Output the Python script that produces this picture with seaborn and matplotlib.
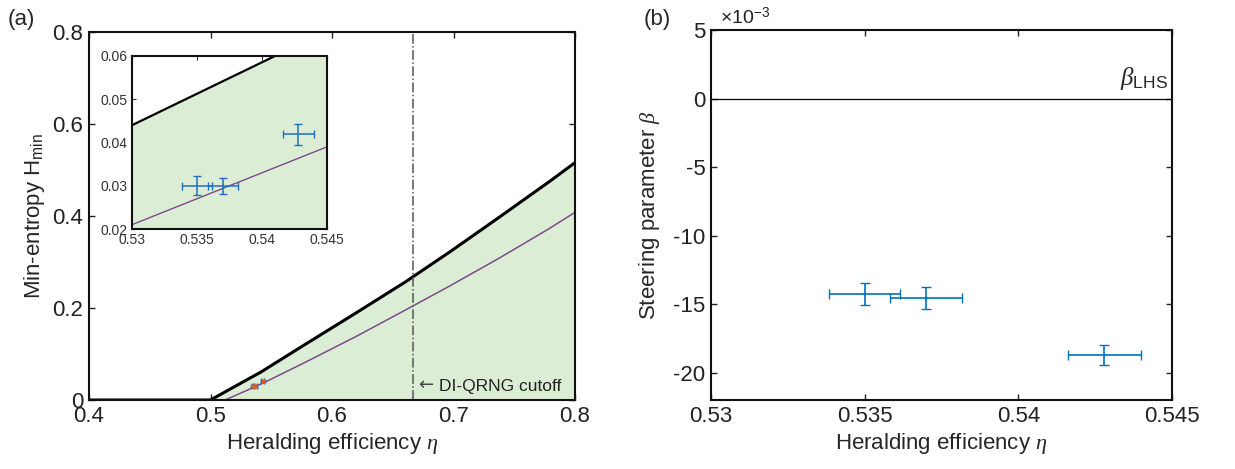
import numpy as np
import pandas as pd
import matplotlib.pyplot as plt
import seaborn as sns

# curves
eta_bound = [0.4, 0.5, 0.53, 0.541, 0.578, 0.619, 0.66, 0.697, 0.738, 0.779, 0.8]
h_bound = [0.0, 0.0, 0.044, 0.060, 0.121, 0.188, 0.256, 0.322, 0.398, 0.475, 0.516]
eta_theory = [0.512, 0.53, 0.545, 0.578, 0.619, 0.66, 0.697, 0.738, 0.779, 0.8]
h_theory = [0.0, 0.021, 0.039, 0.082, 0.137, 0.195, 0.248, 0.309, 0.373, 0.408]

# measured points
eta_meas = [0.535, 0.537, 0.5428]
eta_err = [0.00115, 0.00118, 0.0012]
h_meas = [0.0300, 0.0300, 0.0419]
h_err = [0.0022, 0.0018, 0.0024]
beta_meas = [-14.26, -14.59, -18.72]   # x 1e-3
beta_err = [0.8, 0.8, 0.7]

cutoff = 2 / 3

sns.set_style("ticks")
plt.rcParams['font.family'] = ['Liberation Sans', 'DejaVu Sans']
plt.rcParams['mathtext.fontset'] = 'custom'
plt.rcParams['mathtext.rm'] = 'Liberation Sans'
plt.rcParams['mathtext.it'] = 'Liberation Serif:italic'
plt.rcParams['xtick.direction'] = 'in'
plt.rcParams['ytick.direction'] = 'in'

blue = '#1f6fc0'
purple = '#7d4a8c'
green = '#dcedd5'

fig = plt.figure(figsize=(12.35, 4.69), dpi=100)
W, H = 1235, 469
ax = fig.add_axes([89 / W, 1 - 400 / H, (575 - 89) / W, (400 - 32) / H])
axb = fig.add_axes([711 / W, 1 - 400 / H, (1172 - 711) / W, (400 - 30) / H])
axin = fig.add_axes([132 / W, 1 - 229 / H, (327 - 132) / W, (229 - 56) / H])

bound = pd.DataFrame({'eta': eta_bound, 'h': h_bound})
theory = pd.DataFrame({'eta': eta_theory, 'h': h_theory})


def draw_a(a, lw_b, lw_t):
    a.fill_between(eta_bound, 0, h_bound, color=green, lw=0)
    sns.lineplot(data=bound, x='eta', y='h', color='black', lw=lw_b, ax=a)
    sns.lineplot(data=theory, x='eta', y='h', color=purple, lw=lw_t, ax=a)


# panel a
draw_a(ax, 2.2, 1.1)
ax.plot([cutoff, cutoff], [0, 0.8], color='#555555', lw=1.1, ls='-.')
ax.errorbar(eta_meas, h_meas, xerr=eta_err, yerr=h_err, fmt='none',
            ecolor=blue, elinewidth=1.2, capsize=2)
ax.plot(eta_meas, h_meas, 's', color='#e05a1a', ms=3, mec='none')
ax.text(cutoff + 0.004, 0.014, '\u2190', fontsize=13, family='DejaVu Sans',
        color='#444444', va='bottom')
ax.text(cutoff + 0.021, 0.014, 'DI-QRNG cutoff', fontsize=12.5,
        color='#222222', va='bottom')
ax.set_xlim(0.4, 0.8)
ax.set_ylim(0, 0.8)
ax.set_xticks([0.4, 0.5, 0.6, 0.7, 0.8])
ax.set_yticks([0, 0.2, 0.4, 0.6, 0.8])
ax.set_xticklabels(['0.4', '0.5', '0.6', '0.7', '0.8'])
ax.set_yticklabels(['0', '0.2', '0.4', '0.6', '0.8'])
ax.set_xlabel(r'Heralding efficiency $\eta$', fontsize=16, labelpad=3)
ax.set_ylabel(r'Min-entropy H$_{\mathrm{min}}$', fontsize=16, labelpad=4)

# inset
draw_a(axin, 1.6, 1.0)
axin.errorbar(eta_meas, h_meas, xerr=eta_err, yerr=h_err, fmt='none',
              ecolor=blue, elinewidth=1.1, capsize=3)
axin.set_xlim(0.53, 0.545)
axin.set_ylim(0.02, 0.06)
axin.set_xticks([0.53, 0.535, 0.54, 0.545])
axin.set_xticklabels(['0.53', '0.535', '0.54', '0.545'])
axin.set_yticks([0.02, 0.03, 0.04, 0.05, 0.06])
axin.set_yticklabels(['0.02', '0.03', '0.04', '0.05', '0.06'])
axin.set_xlabel('')
axin.set_ylabel('')
axin.tick_params(labelsize=10, length=3, colors='#333333', labelcolor='#333333',
                 top=True, right=True, pad=3)

# panel b
axb.axhline(0, color='black', lw=0.9)
axb.errorbar(eta_meas, beta_meas, xerr=eta_err, yerr=beta_err, fmt='none',
             ecolor='#0072BD', elinewidth=1.2, capsize=3.5)
sns.scatterplot(x=eta_meas, y=beta_meas, color='#0072BD', s=4, ax=axb,
                edgecolor='none')
axb.text(0.54488, 0.45, r'$\beta_{\mathrm{LHS}}$', fontsize=18, ha='right',
         va='bottom')
axb.set_xlim(0.53, 0.545)
axb.set_ylim(-22, 5)
axb.set_xticks([0.53, 0.535, 0.54, 0.545])
axb.set_xticklabels(['0.53', '0.535', '0.54', '0.545'])
axb.set_yticks([5, 0, -5, -10, -15, -20])
axb.set_yticklabels(['5', '0', '-5', '-10', '-15', '-20'])
axb.set_xlabel(r'Heralding efficiency $\eta$', fontsize=16, labelpad=3)
axb.set_ylabel(r'Steering parameter $\beta$', fontsize=16, labelpad=8)
axb.text(0.02, 1.005, '\u00d710$^{\\mathrm{-3}}$', transform=axb.transAxes,
         fontsize=14, va='bottom', ha='left', color='#222222')

for a in (ax, axb):
    a.tick_params(labelsize=16, length=4, width=1, top=True, right=True,
                  colors='#222222', labelcolor='#222222', pad=4)
for a in (ax, axb, axin):
    for s in a.spines.values():
        s.set_linewidth(1.5)
        s.set_color('#111111')

fig.text(8 / W, 1 - 20 / H, '(a)', fontsize=16, va='center')
fig.text(644 / W, 1 - 20 / H, '(b)', fontsize=16, va='center')

fig.savefig('out.png', dpi=100)
